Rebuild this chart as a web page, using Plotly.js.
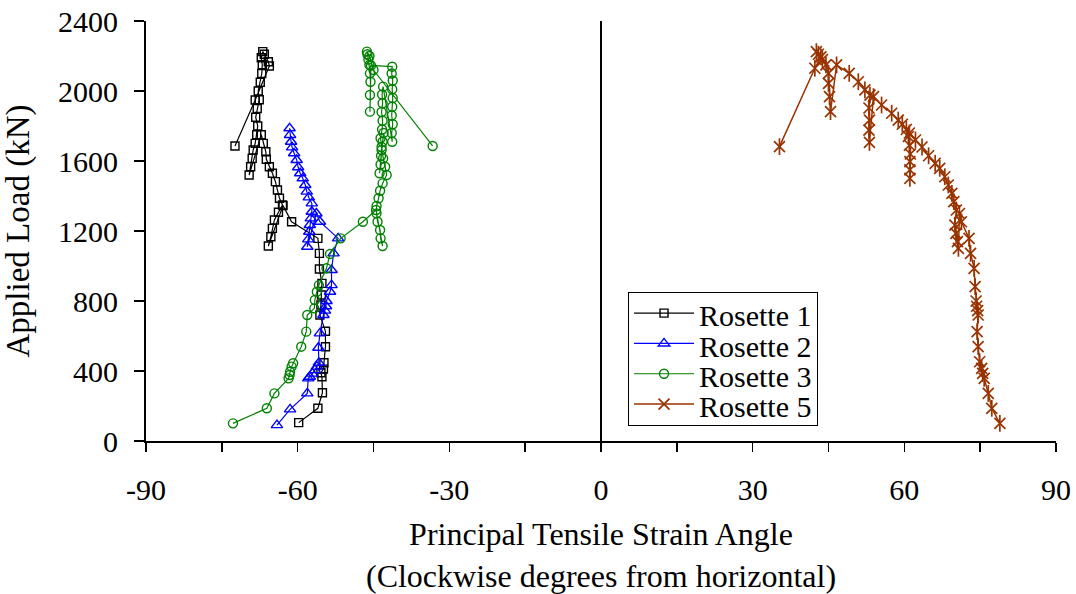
<!DOCTYPE html>
<html>
<head>
<meta charset="utf-8">
<script src="https://cdn.plot.ly/plotly-3.0.1.min.js"></script>
<style>html,body{margin:0;padding:0;background:#fff}#chart{width:1076px;height:594px}</style>
</head>
<body>
<div id="chart"></div>
<script>
var seriesNames = ['Rosette 1', 'Rosette 2', 'Rosette 3', 'Rosette 5'];
var xTickValues = [-90, -60, -30, 0, 30, 60, 90];
var xTickLabels = ['-90', '-60', '-30', '0', '30', '60', '90'];

// Rosette 1 (angle in degrees, load in kN), in loading order
var r1Angle = [-59.8,-56.0,-55.1,-55.2,-55.4,-54.9,-54.8,-54.5,-54.5,-55.6,-55.4,-55.3,-55.2,-55.7,-55.7,-56.0,-61.2,-62.9,
  -65.8,-65.3,-65.0,-64.6,-63.8,-63.0,-63.6,-64.0,-64.4,-65.0,-65.6,-66.2,-66.3,-66.8,-67.2,
  -69.6,-69.3,-69.0,-68.8,-68.4,-68.1,-67.9,-68.3,-68.0,-67.6,-67.8,-67.4,-67.1,-67.0,-67.2,-66.9,-66.6,-65.8,-65.6,-68.4,-72.4];
var r1Load = [105,187,276,367,390,411,447,539,627,720,777,834,901,983,1072,1158,1253,1345,
  1114,1167,1215,1263,1307,1349,1387,1434,1482,1530,1567,1610,1653,1701,1750,
  1520,1567,1615,1663,1701,1750,1800,1850,1900,1950,2000,2050,2100,2150,2190,2225,2210,2167,2143,1949,1686];

// Rosette 2
var r2Angle = [-64.1,-61.5,-58.1,-57.9,-57.6,-57.1,-56.6,-56.2,-55.8,-55.9,-55.6,-54.9,-54.6,-54.4,-54.3,-53.6,-53.3,-53.3,-52.9,-52.0,-55.6,-56.3,
  -58.1,-57.9,-57.7,-57.6,-57.4,-57.2,-57.2,-57.8,-58.2,-58.5,-59.0,-59.5,-59.9,-60.2,-60.7,-61.1,-61.3,-61.5,-61.6];
var r2Load = [91,181,272,358,367,385,405,425,447,533,615,720,745,770,800,853,891,977,1072,1158,1253,1300,
  1110,1152,1196,1234,1272,1310,1358,1392,1425,1463,1501,1530,1564,1606,1644,1678,1710,1749,1787];

// Rosette 3
var r3Angle = [-72.8,-66.1,-64.6,-61.8,-61.6,-61.5,-61.2,-60.9,-59.3,-58.3,-58.1,-56.7,-56.6,-56.2,-55.8,-54.3,-53.6,-51.5,-47.1,-44.5,
  -43.2,-43.6,-43.7,-44.2,-44.4,-44.4,-44.0,-43.7,-43.2,-42.4,-42.7,-43.1,-43.4,-43.2,-43.0,
  -43.8,-43.6,-43.5,-43.4,-43.6,-43.3,-43.2,-43.4,-43.2,-43.3,-43.1,
  -41.3,-41.4,-41.2,-41.4,-41.3,-41.2,-41.3,-41.2,-41.4,-41.3,-45.5,
  -45.7,-45.7,-45.6,-45.7,-45.8,-46.0,-46.2,-46.3,-45.8,-45.0,-33.3];
var r3Load = [101,187,272,358,377,396,425,444,539,625,720,758,806,853,891,987,1069,1158,1253,1320,
  1114,1158,1206,1253,1301,1343,1387,1430,1472,1520,1567,1615,1663,1710,1760,
  1530,1580,1630,1680,1730,1780,1830,1880,1930,1980,2025,
  1710,1760,1810,1860,1910,1960,2010,2060,2100,2139,2146,
  1882,1977,2053,2101,2149,2180,2210,2225,2200,2120,1686];

// Rosette 5
var r5Angle = [78.9,77.3,76.6,75.8,75.5,75.3,74.9,74.6,74.4,74.6,74.5,74.3,74.2,74.0,73.8,73.1,72.8,71.3,70.9,
  70.7,70.5,70.2,70.0,70.3,69.8,69.4,68.7,68.0,67.0,66.1,64.8,63.5,62.2,61.0,
  61.1,61.1,61.1,61.2,61.0,60.8,60.4,59.6,58.8,57.5,55.5,53.9,
  53.1,53.0,53.1,53.0,53.2,52.2,50.9,49.1,46.6,
  45.4,45.2,45.0,45.0,44.5,43.8,43.0,42.6,43.5,42.3,35.3];
var r5Load = [101,187,272,358,387,415,453,539,625,720,745,770,800,882,987,1072,1158,1253,1300,
  1101,1139,1187,1234,1320,1368,1415,1463,1510,1558,1587,1630,1680,1720,1760,
  1501,1549,1596,1640,1690,1740,1780,1810,1834,1873,1920,1968,
  1706,1777,1834,1903,1977,2006,2053,2101,2149,
  1882,1968,2044,2101,2149,2180,2210,2225,2195,2130,1682];

var FONT = 'Liberation Serif, Times New Roman, serif';
function legendName(s) { return '<span style="font-size:30px;baseline-shift:-5px">' + s + '</span>'; }

var traces = [
  {x: r1Angle, y: r1Load, name: legendName(seriesNames[0]), mode: 'lines+markers',
   line: {color: '#000000', width: 1.2},
   marker: {symbol: 'square-open', size: 8, color: '#000000', line: {width: 1.4}}},
  {x: r2Angle, y: r2Load, name: legendName(seriesNames[1]), mode: 'lines+markers',
   line: {color: '#0000FF', width: 1.2},
   marker: {symbol: 'triangle-up-open', size: 10, color: '#0000FF', line: {width: 1.4}}},
  {x: r3Angle, y: r3Load, name: legendName(seriesNames[2]), mode: 'lines+markers',
   line: {color: '#008000', width: 1.2},
   marker: {symbol: 'circle-open', size: 9, color: '#008000', line: {width: 1.4}}},
  {x: r5Angle, y: r5Load, name: legendName(seriesNames[3]), mode: 'lines+markers',
   line: {color: '#993300', width: 1.5},
   marker: {symbol: 'x-thin-open', size: 11, color: '#993300', line: {width: 1.7, color: '#993300'}}},
  {x: r5Angle, y: r5Load, name: seriesNames[3], mode: 'markers', showlegend: false,
   marker: {symbol: 'line-ns-open', size: 12, color: '#993300', line: {width: 1.7, color: '#993300'}}}
];

var layout = {
  width: 1076, height: 594,
  margin: {l: 146, r: 20, t: 21, b: 153},
  paper_bgcolor: '#ffffff', plot_bgcolor: '#ffffff',
  font: {family: FONT, color: '#000000', size: 30},
  showlegend: true,
  legend: {x: 0.5297, y: 0.3548, xanchor: 'left', yanchor: 'top',
    bgcolor: '#ffffff', bordercolor: '#000000', borderwidth: 1,
    font: {family: FONT, size: 21, color: '#000000'}, itemwidth: 60, tracegroupgap: 0},
  xaxis: {
    range: [-90, 90], tickmode: 'array', tickvals: xTickValues, ticktext: xTickLabels,
    ticks: 'outside', ticklen: 9, tickwidth: 1.5, tickcolor: '#000',
    showline: true, linecolor: '#000', linewidth: 2,
    zeroline: true, zerolinecolor: '#000', zerolinewidth: 1.2, showgrid: false,
    minor: {dtick: 15, tick0: 0, ticks: 'outside', ticklen: 9, tickwidth: 1.5, tickcolor: '#000', showgrid: false},
    tickfont: {family: FONT, size: 30, color: '#000'}, ticklabelstandoff: 12,
    title: {text: 'Principal Tensile Strain Angle<br>(Clockwise degrees from horizontal)',
      font: {family: FONT, size: 32, color: '#000'}, standoff: 23}
  },
  yaxis: {
    range: [0, 2400], dtick: 400, ticks: 'outside', ticklen: 10, tickwidth: 1.5, tickcolor: '#000',
    showline: true, linecolor: '#000', linewidth: 2,
    zeroline: false, showgrid: false,
    tickfont: {family: FONT, size: 30, color: '#000'}, ticklabelstandoff: 10,
    title: {text: 'Applied Load (kN)', font: {family: FONT, size: 33, color: '#000'}, standoff: 20}
  }
};

Plotly.newPlot('chart', traces, layout, {staticPlot: true, displayModeBar: false});
</script>
</body>
</html>
